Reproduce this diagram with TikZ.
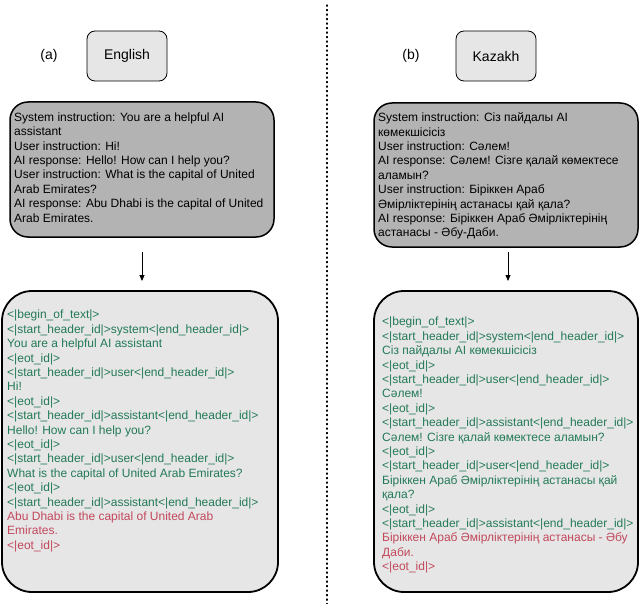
\documentclass[tikz,border=0pt]{standalone}
\usepackage{fontspec}
\setmainfont{Liberation Sans}
\usetikzlibrary{arrows.meta}
\definecolor{tokgreen}{RGB}{35,122,87}
\definecolor{tokred}{RGB}{194,72,92}
\definecolor{lightfill}{RGB}{230,230,230}
\definecolor{midfill}{RGB}{179,179,179}
\begin{document}
\begin{tikzpicture}[x=1pt,y=-1pt,
  langbox/.style={draw=black,line width=0.8pt,fill=lightfill,rounded corners=8pt},
  chatbox/.style={draw=black,line width=1.5pt,fill=midfill,rounded corners=18pt},
  tokbox/.style={draw=black,line width=1.8pt,fill=lightfill,rounded corners=30pt},
  txt/.style={font=\fontsize{12}{14.4}\selectfont,align=left,inner sep=0pt,anchor=north west},
  hdr/.style={font=\fontsize{14}{16}\selectfont,inner sep=0pt,anchor=center},
  arr/.style={-{Triangle[length=6pt,width=5pt]},line width=0.8pt}]
\useasboundingbox (0,0) rectangle (639,604);
% divider
\coordinate (dtop) at (327,5);
\coordinate (dbot) at (327,604);
\draw[line width=1.2pt,dash pattern=on 1.2pt off 3.3pt,line cap=round] (dtop) -- (dbot);
% headers
\node[hdr] (la) at (49,56) {(a)};
\node[langbox,hdr,minimum width=80pt,minimum height=50pt] (en) at (127,56) {English};
\node[hdr] (lb) at (411,56) {(b)};
\node[langbox,hdr,minimum width=80pt,minimum height=50pt] (kk) at (496,56) {Kazakh};
% chat boxes
\draw[chatbox] (10,102) rectangle (274,237);
\node[txt] (chatLt) at (14,112.5) {System instruction: You are a helpful AI\\assistant\\User instruction: Hi!\\AI response: Hello! How can I help you?\\User instruction: What is the capital of United\\Arab Emirates?\\AI response: Abu Dhabi is the capital of United\\Arab Emirates.};
\draw[chatbox] (374,103) rectangle (638,247);
\node[txt] (chatRt) at (378,112.5) {System instruction: Сіз пайдалы AI\\көмекшісісіз\\User instruction: Сәлем!\\AI response: Сәлем! Сізге қалай көмектесе\\аламын?\\User instruction: Біріккен Араб\\Әмірліктерінің астанасы қай қала?\\AI response: Біріккен Араб Әмірліктерінің\\астанасы - Әбу-Даби.};
% arrows
\coordinate (a1s) at (142,252);
\coordinate (a1e) at (142,281);
\coordinate (a2s) at (508,252);
\coordinate (a2e) at (508,281);
\draw[arr] (a1s) -- (a1e);
\draw[arr] (a2s) -- (a2e);
% token boxes
\draw[tokbox] (2,291) rectangle (278,592);
\node[txt,text=tokgreen] (tokL) at (7,310) {<|begin\_of\_text|>\\<|start\_header\_id|>system<|end\_header\_id|>\\You are a helpful AI assistant\\<|eot\_id|>\\<|start\_header\_id|>user<|end\_header\_id|>\\Hi!\\<|eot\_id|>\\<|start\_header\_id|>assistant<|end\_header\_id|>\\Hello! How can I help you?\\<|eot\_id|>\\<|start\_header\_id|>user<|end\_header\_id|>\\What is the capital of United Arab Emirates?\\<|eot\_id|>\\<|start\_header\_id|>assistant<|end\_header\_id|>\\\textcolor{tokred}{Abu Dhabi is the capital of United Arab}\\\textcolor{tokred}{Emirates.}\\\textcolor{tokred}{<|eot\_id|>}};
\draw[tokbox] (374,291) rectangle (638,592);
\node[txt,text=tokgreen] (tokR) at (382,317) {<|begin\_of\_text|>\\<|start\_header\_id|>system<|end\_header\_id|>\\Сіз пайдалы AI көмекшісісіз\\<|eot\_id|>\\<|start\_header\_id|>user<|end\_header\_id|>\\Сәлем!\\<|eot\_id|>\\<|start\_header\_id|>assistant<|end\_header\_id|>\\Сәлем! Сізге қалай көмектесе аламын?\\<|eot\_id|>\\<|start\_header\_id|>user<|end\_header\_id|>\\Біріккен Араб Әмірліктерінің астанасы қай\\қала?\\<|eot\_id|>\\<|start\_header\_id|>assistant<|end\_header\_id|>\\\textcolor{tokred}{Біріккен Араб Әмірліктерінің астанасы - Әбу}\\\textcolor{tokred}{Даби.}\\\textcolor{tokred}{<|eot\_id|>}};
\end{tikzpicture}
\end{document}
